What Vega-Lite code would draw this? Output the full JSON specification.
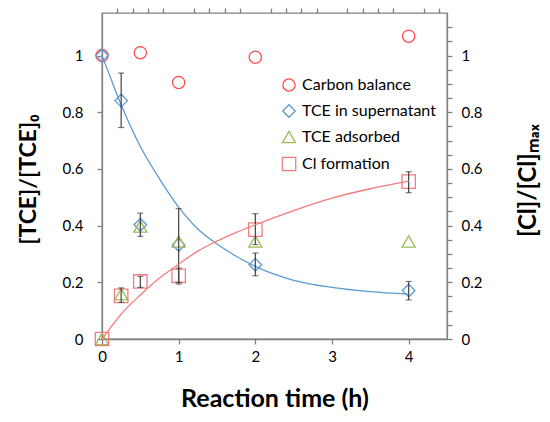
{
  "$schema": "https://vega.github.io/schema/vega-lite/v6.json",
  "width": 345,
  "height": 326,
  "autosize": {"type": "none"},
  "padding": {"left": 102, "top": 13, "right": 103, "bottom": 83},
  "config": {
    "font": "Lato",
    "view": {"stroke": "#808080", "strokeWidth": 1.3},
    "axis": {
      "grid": false,
      "domainColor": "#808080",
      "domainWidth": 1.3,
      "tickColor": "#808080",
      "tickWidth": 1.3,
      "tickSize": 5,
      "labelFont": "Lato",
      "labelFontSize": 15,
      "labelColor": "#000000",
      "labelFlush": false,
      "titleFont": "Lato",
      "titleFontWeight": "bold",
      "titleColor": "#000000"
    }
  },
  "datasets": {
    "pts": [
      {"t": 0, "series": "Carbon balance", "v": 1.0},
      {"t": 0.5, "series": "Carbon balance", "v": 1.01},
      {"t": 1, "series": "Carbon balance", "v": 0.905},
      {"t": 2, "series": "Carbon balance", "v": 0.994},
      {"t": 4, "series": "Carbon balance", "v": 1.068},
      {"t": 0, "series": "TCE in supernatant", "v": 1.0},
      {"t": 0.25, "series": "TCE in supernatant", "v": 0.841},
      {"t": 0.5, "series": "TCE in supernatant", "v": 0.403},
      {"t": 1, "series": "TCE in supernatant", "v": 0.332},
      {"t": 2, "series": "TCE in supernatant", "v": 0.262},
      {"t": 4, "series": "TCE in supernatant", "v": 0.171},
      {"t": 0, "series": "TCE adsorbed", "v": 0},
      {"t": 0.25, "series": "TCE adsorbed", "v": 0.158},
      {"t": 0.5, "series": "TCE adsorbed", "v": 0.397},
      {"t": 1, "series": "TCE adsorbed", "v": 0.344},
      {"t": 2, "series": "TCE adsorbed", "v": 0.344},
      {"t": 4, "series": "TCE adsorbed", "v": 0.344},
      {"t": 0, "series": "Cl formation", "v": 0},
      {"t": 0.25, "series": "Cl formation", "v": 0.152},
      {"t": 0.5, "series": "Cl formation", "v": 0.203},
      {"t": 1, "series": "Cl formation", "v": 0.223},
      {"t": 2, "series": "Cl formation", "v": 0.386},
      {"t": 4, "series": "Cl formation", "v": 0.555}
    ],
    "err": [
      {"t": 0.25, "lo": 0.746, "hi": 0.938},
      {"t": 0.25, "lo": 0.129, "hi": 0.18},
      {"t": 0.5, "lo": 0.362, "hi": 0.444},
      {"t": 0.5, "lo": 0.182, "hi": 0.221},
      {"t": 1, "lo": 0.2, "hi": 0.46},
      {"t": 1, "lo": 0.194, "hi": 0.25},
      {"t": 2, "lo": 0.333, "hi": 0.442},
      {"t": 2, "lo": 0.223, "hi": 0.303},
      {"t": 4, "lo": 0.516, "hi": 0.59},
      {"t": 4, "lo": 0.138, "hi": 0.203}
    ],
    "fitTCE": [
      {"t": 0, "v": 1.0},
      {"t": 0.1, "v": 0.93},
      {"t": 0.25, "v": 0.826},
      {"t": 0.5, "v": 0.679},
      {"t": 0.75, "v": 0.565},
      {"t": 1.0, "v": 0.465},
      {"t": 1.25, "v": 0.388},
      {"t": 1.5, "v": 0.335},
      {"t": 1.75, "v": 0.292},
      {"t": 2.0, "v": 0.256},
      {"t": 2.5, "v": 0.207},
      {"t": 3.0, "v": 0.182},
      {"t": 3.5, "v": 0.167},
      {"t": 4.0, "v": 0.158}
    ],
    "fitCl": [
      {"t": 0, "v": 0},
      {"t": 0.1, "v": 0.036},
      {"t": 0.25, "v": 0.088},
      {"t": 0.5, "v": 0.155},
      {"t": 0.75, "v": 0.215},
      {"t": 1.0, "v": 0.264},
      {"t": 1.25, "v": 0.31},
      {"t": 1.5, "v": 0.345},
      {"t": 1.75, "v": 0.376},
      {"t": 2.0, "v": 0.403},
      {"t": 2.5, "v": 0.453},
      {"t": 3.0, "v": 0.497},
      {"t": 3.5, "v": 0.53},
      {"t": 4.0, "v": 0.557}
    ]
  },
  "layer": [
    {
      "layer": [
        {
          "data": {"name": "fitTCE"},
          "mark": {"type": "line", "color": "#5B9BD5", "strokeWidth": 1.3, "interpolate": "monotone"},
          "encoding": {
            "x": {
              "field": "t", "type": "quantitative",
              "title": "Reaction time (h)",
              "scale": {"domain": [0, 4.5], "nice": false},
              "axis": {
                "titleFontSize": 25,
                "titlePadding": 22,
                "values": [0, 1, 2, 3, 4],
                "format": "d",
                "labelFlush": false,
                "labelPadding": 5
              }
            },
            "y": {
              "field": "v", "type": "quantitative",
              "title": "[TCE]/[TCE]₀",
              "scale": {"domain": [0, 1.15], "nice": false},
              "axis": {
                "titleFontSize": 23,
                "titleAngle": 270,
                "titleX": -74,
                "titleY": 166,
                "titleAlign": "center",
                "titleBaseline": "middle",
                "values": [0, 0.05, 0.1, 0.15, 0.2, 0.25, 0.3, 0.35, 0.4, 0.45, 0.5, 0.55, 0.6, 0.65, 0.7, 0.75, 0.8, 0.85, 0.9, 0.95, 1, 1.05, 1.1],
                "labelExpr": "round(datum.value * 100) % 20 == 0 ? datum.label : ''",
                "format": "~g",
                "labelFlush": false,
                "labelPadding": 14
              }
            }
          }
        },
        {
          "data": {"name": "pts"},
          "mark": {"type": "point", "filled": false, "strokeWidth": 1.3, "opacity": 1},
          "encoding": {
            "x": {"field": "t", "type": "quantitative", "title": "Reaction time (h)"},
            "y": {"field": "v", "type": "quantitative", "title": "[TCE]/[TCE]₀"},
            "color": {
              "field": "series", "type": "nominal",
              "scale": {
                "domain": ["Carbon balance", "TCE in supernatant", "TCE adsorbed", "Cl formation"],
                "range": ["#FF4B4B", "#5B9BD5", "#9BBB59", "#F47C7C"]
              },
              "legend": {
                "title": null,
                "orient": "none",
                "legendX": 179,
                "legendY": 64,
                "padding": 0,
                "labelFontSize": 16,
                "labelFont": "Lato",
                "labelColor": "#000000",
                "labelOffset": 5,
                "symbolSize": 100,
                "symbolStrokeWidth": 1.3,
                "rowPadding": 8
              }
            },
            "shape": {
              "field": "series", "type": "nominal",
              "scale": {
                "domain": ["Carbon balance", "TCE in supernatant", "TCE adsorbed", "Cl formation"],
                "range": ["circle", "diamond", "triangle-up", "square"]
              },
              "legend": {
                "title": null,
                "orient": "none",
                "legendX": 179,
                "legendY": 64,
                "padding": 0,
                "labelFontSize": 16,
                "labelFont": "Lato",
                "labelColor": "#000000",
                "labelOffset": 5,
                "symbolSize": 100,
                "symbolStrokeWidth": 1.3,
                "rowPadding": 8
              }
            },
            "size": {
              "field": "series", "type": "nominal",
              "scale": {
                "domain": ["Carbon balance", "TCE in supernatant", "TCE adsorbed", "Cl formation"],
                "range": [150, 180, 180, 150]
              },
              "legend": null
            }
          }
        },
        {
          "data": {"name": "err"},
          "mark": {"type": "errorbar", "color": "#404040", "thickness": 1.2, "ticks": {"size": 6, "thickness": 1.2, "color": "#404040"}},
          "encoding": {
            "x": {"field": "t", "type": "quantitative", "title": "Reaction time (h)"},
            "y": {"field": "lo", "type": "quantitative", "title": "[TCE]/[TCE]₀"},
            "y2": {"field": "hi"}
          }
        }
      ]
    },
    {
      "data": {"name": "fitCl"},
      "mark": {"type": "line", "color": "#F47C7C", "strokeWidth": 1.3, "interpolate": "monotone"},
      "encoding": {
        "x": {
          "field": "t", "type": "quantitative",
          "axis": {
            "title": null,
            "labels": false,
            "domain": false,
            "values": [0.2, 0.4, 0.6, 0.8, 1.2, 1.4, 1.6, 1.8, 2.2, 2.4, 2.6, 2.8, 3.2, 3.4, 3.6, 3.8, 4.2, 4.4]
          }
        },
        "y": {
          "field": "v", "type": "quantitative",
          "title": "[Cl]/[Cl]ₘₐₓ",
          "scale": {"domain": [0, 1.15], "nice": false},
          "axis": {
            "orient": "right",
            "titleFontSize": 24,
            "titleAngle": 270,
            "titleX": 81,
            "titleY": 167,
            "titleAlign": "center",
            "titleBaseline": "middle",
            "values": [0, 0.05, 0.1, 0.15, 0.2, 0.25, 0.3, 0.35, 0.4, 0.45, 0.5, 0.55, 0.6, 0.65, 0.7, 0.75, 0.8, 0.85, 0.9, 0.95, 1, 1.05, 1.1],
            "labelExpr": "round(datum.value * 100) % 20 == 0 ? datum.label : ''",
            "format": "~g",
            "labelFlush": false,
            "labelPadding": 9
          }
        }
      }
    }
  ],
  "resolve": {"scale": {"y": "independent"}, "axis": {"x": "independent"}}
}
